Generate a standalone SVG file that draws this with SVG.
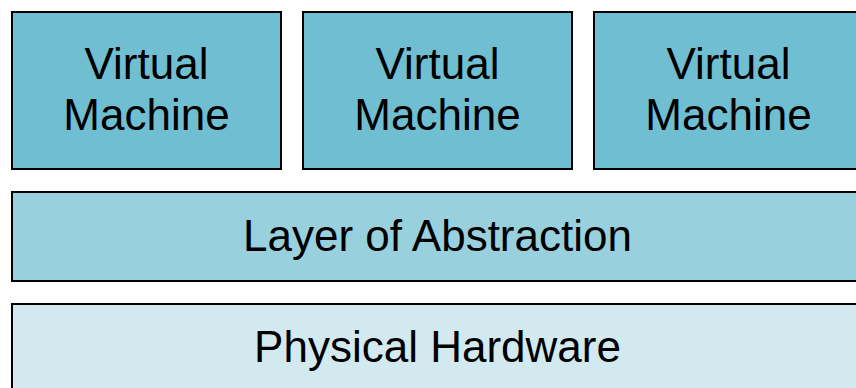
<svg xmlns="http://www.w3.org/2000/svg" width="856" height="388" viewBox="0 0 856 388">
<style>
rect{stroke:#000;stroke-width:2}
.vm rect{fill:#70bed1}
#abstraction rect{fill:#98d0dd}
#hardware rect{fill:#d2eaef}
text{font-family:"Liberation Sans",Arial,sans-serif;font-size:44px;fill:#000;text-anchor:middle}
</style>
<rect x="0" y="0" width="856" height="388" style="fill:#fff;stroke:none"/>
<g id="vm1" class="vm"><rect x="12" y="12" width="269" height="157"/><text x="146.5" y="79">Virtual</text><text x="146.5" y="130">Machine</text></g>
<g id="vm2" class="vm"><rect x="303" y="12" width="269" height="157"/><text x="437.5" y="79">Virtual</text><text x="437.5" y="130">Machine</text></g>
<g id="vm3" class="vm"><rect x="594" y="12" width="269" height="157"/><text x="728.5" y="79">Virtual</text><text x="728.5" y="130">Machine</text></g>
<g id="abstraction"><rect x="12" y="192" width="851" height="89"/><text x="437.5" y="251">Layer of Abstraction</text></g>
<g id="hardware"><rect x="12" y="304" width="851" height="100"/><text x="437.5" y="362">Physical Hardware</text></g>
<g id="connectors"></g>
</svg>
